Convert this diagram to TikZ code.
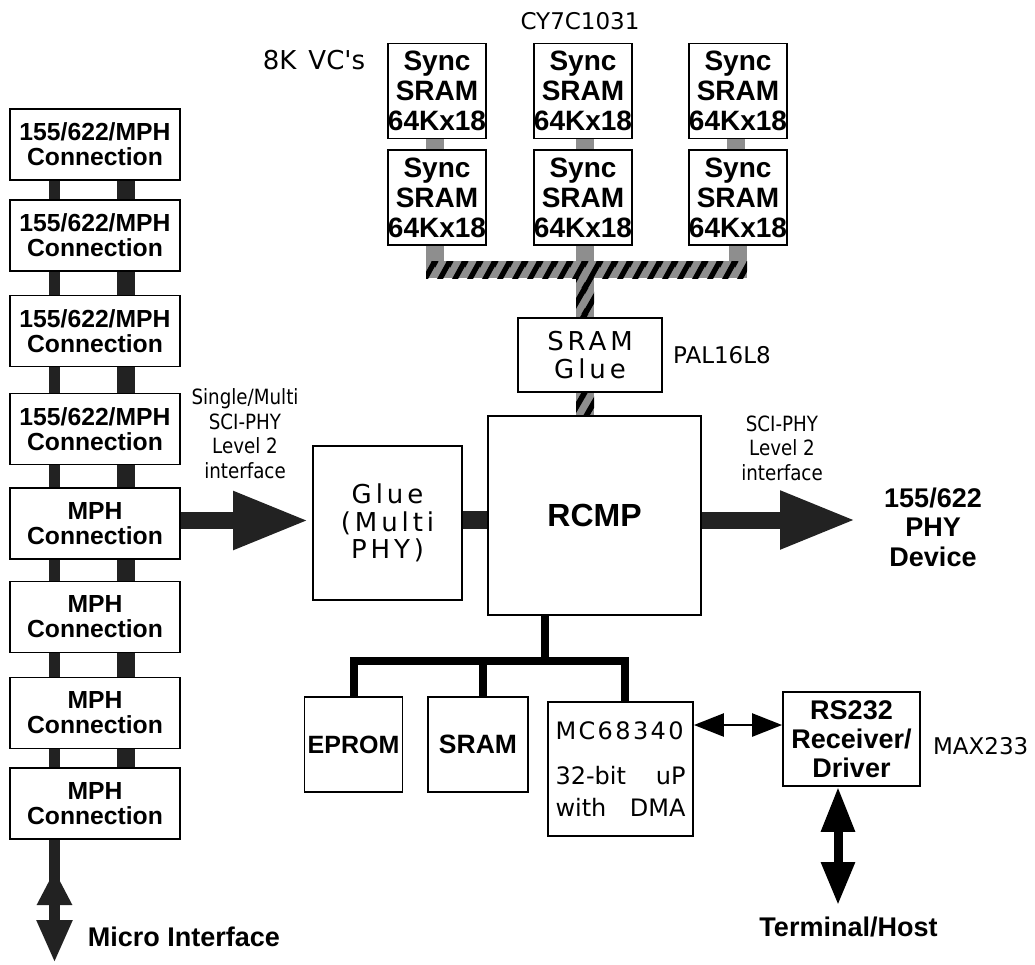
\documentclass[tikz,border=0pt]{standalone}
\usepackage{fontspec}
\usepackage{tikz}
\usetikzlibrary{arrows.meta, positioning, calc, patterns}
\setmainfont{Liberation Sans}
\newfontfamily\genevafont{DejaVu Sans}
\newfontfamily\spacedfont[LetterSpace=15]{DejaVu Sans}
\newfontfamily\mcfont[LetterSpace=10]{DejaVu Sans}
\newfontfamily\condfont[FakeStretch=0.87]{DejaVu Sans}
\definecolor{barblack}{HTML}{222222}
\definecolor{busgray}{HTML}{8E8E8E}
\pgfdeclarepatternformonly{busstripes}{\pgfqpoint{0pt}{0pt}}{\pgfqpoint{15pt}{26pt}}{\pgfqpoint{15pt}{26pt}}{%
  \pgfsetlinewidth{5.5pt}%
  \pgfpathmoveto{\pgfqpoint{-16.5pt}{-2.6pt}}\pgfpathlineto{\pgfqpoint{1.5pt}{28.6pt}}%
  \pgfpathmoveto{\pgfqpoint{-1.5pt}{-2.6pt}}\pgfpathlineto{\pgfqpoint{16.5pt}{28.6pt}}%
  \pgfpathmoveto{\pgfqpoint{13.5pt}{-2.6pt}}\pgfpathlineto{\pgfqpoint{31.5pt}{28.6pt}}%
  \pgfusepath{stroke}}
\tikzset{
  block/.style={
    rectangle, draw, line width=1.8pt,
    inner sep=0pt, align=center,
  },
  conn/.style={
    block, minimum width=170pt, minimum height=71pt,
    font=\bfseries\fontsize{24.7}{25}\selectfont,
  },
  syncram/.style={
    block, minimum width=98pt, minimum height=95pt,
    font=\bfseries\fontsize{28}{30}\selectfont,
  },
  glueblock/.style={
    block, font=\spacedfont\fontsize{26}{27.5}\selectfont,
  },
  memblock/.style={
    block, minimum width=98pt, minimum height=95pt,
    font=\bfseries\fontsize{25}{28}\selectfont,
  },
  note/.style={inner sep=0pt, font=\genevafont\fontsize{23}{26}\selectfont},
  sci/.style={inner sep=0pt, align=center, font=\condfont\fontsize{21}{24.5}\selectfont},
  heading/.style={inner sep=0pt, align=center, font=\bfseries\fontsize{27}{29.5}\selectfont},
  railthin/.style={draw=barblack, line width=11pt},
  railthick/.style={draw=barblack, line width=18pt},
  fatarrow/.style={draw=barblack, line width=17pt, -{Triangle[length=76pt, width=54pt]}},
  microarrow/.style={draw=barblack, line width=11pt,
    {Triangle[length=35pt, width=33pt]}-{Triangle[length=43pt, width=33pt]}},
  termarrow/.style={draw=black, line width=9pt,
    {Triangle[length=45pt, width=32pt]}-{Triangle[length=43pt, width=32pt]}},
  serial/.style={draw=black, line width=2.5pt,
    {Triangle[length=30pt, width=23pt]}-{Triangle[length=30pt, width=23pt]}},
  cpubus/.style={draw=black, line width=8pt},
  stub/.style={fill=busgray},
  busbar/.style={preaction={fill=busgray}, pattern=busstripes, pattern color=black},
}

\begin{document}
\begin{tikzpicture}[x=1pt, y=-1pt]
  \useasboundingbox (0,0) rectangle (1035,964);

  \node[conn] (c1) at (95,144.5) {155/622/MPH\\Connection};
  \node[conn] (c2) at (95,235.5) {155/622/MPH\\Connection};
  \node[conn] (c3) at (95,331) {155/622/MPH\\Connection};
  \node[conn] (c4) at (95,429) {155/622/MPH\\Connection};
  \node[conn] (c5) at (95,523.5) {MPH\\Connection};
  \node[conn] (c6) at (95,617) {MPH\\Connection};
  \node[conn] (c7) at (95,713) {MPH\\Connection};
  \node[conn] (c8) at (95,803.5) {MPH\\Connection};

  \foreach \a/\b in {c1/c2, c2/c3, c3/c4, c4/c5, c5/c6, c6/c7, c7/c8} {
    \draw[railthin] ([xshift=-40.5]\a.south) -- ([xshift=-40.5]\b.north);
    \draw[railthick] ([xshift=31]\a.south) -- ([xshift=31]\b.north);
  }

  \coordinate (microjoint) at (54.5,905);
  \coordinate (microup) at (54.5,870);
  \coordinate (microtip) at (54.5,963);
  \draw[railthin] ([xshift=-40.5]c8.south) -- (microjoint);
  \draw[microarrow] (microup) -- (microtip);
  \node[heading] (micro) at (184,937) {Micro Interface};

  \foreach \col/\x in {1/437, 2/583, 3/738} {
    \node[syncram] (s\col1) at (\x,91) {Sync\\SRAM\\64Kx18};
    \node[syncram, below=10pt of s\col1] (s\col2) {Sync\\SRAM\\64Kx18};
  }
  \node[note] (partno) at (580,21) {CY7C1031};
  \node[note, font=\genevafont\fontsize{26}{28}\selectfont] (vcs) at (314,60) {8K\hspace{12pt}VC\textquotesingle s};

  \foreach \x in {426, 576, 727} \fill[stub] (\x,139) rectangle ++(18,10);
  \foreach \x in {426, 576, 729} \fill[stub] (\x,246) rectangle ++(18,16);
  \path[busbar] (426,261) rectangle (747,278);

  \node[glueblock, minimum width=144pt, minimum height=74pt] (sramglue) at (590,355) {SRAM\\Glue};
  \node[note, right=10pt of sramglue] (pal) {PAL16L8};
  \path[busbar] (576,278) rectangle ([xshift=4]sramglue.north);

  \node[block, minimum width=213pt, minimum height=199pt,
        font=\bfseries\fontsize{32}{34}\selectfont] (rcmp) at (594.5,515.5) {RCMP};
  \path[busbar] ([xshift=-14]sramglue.south) rectangle ([xshift=4]sramglue.south |- rcmp.north);

  \node[glueblock, minimum width=149pt, minimum height=154pt] (glue) at (387.5,523) {Glue\\(Multi\\PHY)};
  \coordinate (gluerow) at (0,520);
  \draw[railthick] (glue.east |- gluerow) -- (rcmp.west |- gluerow);

  \coordinate (arrowrow) at (0,520.5);
  \draw[fatarrow] (c5.east |- arrowrow) -- ([xshift=-3]glue.west |- arrowrow);
  \node[sci] (scileft) at (245,433.5) {Single/Multi\\SCI-PHY\\Level 2\\interface};

  \coordinate (phytip) at (856,520);
  \draw[fatarrow] (rcmp.east |- phytip) -- (phytip);
  \node[sci] (sciright) at (782,448) {SCI-PHY\\Level 2\\interface};
  \node[heading] (phy) at (933,527) {155/622\\PHY\\Device};

  \node[memblock] (eprom) at (353.5,744.5) {EPROM};
  \node[memblock, minimum width=100pt, font=\bfseries\fontsize{26.5}{28}\selectfont] (sram) at (478,744.5) {SRAM};
  \node[block, minimum width=145pt, minimum height=134pt, text width=130pt, align=left,
        font=\genevafont\fontsize{24}{32}\selectfont] (mc) at (620.5,769)
        {{\mcfont MC68340}\\[13pt]32-bit\hfill uP\hspace{10pt}\\with\hfill DMA};

  \coordinate (cpubus) at (0,661);
  \coordinate (mcdrop) at ([xshift=4.5]mc.north);
  \coordinate (sramdrop) at ([xshift=4.5]sram.north);
  \coordinate (rcmpdrop) at ([xshift=-50]rcmp.south);
  \draw[cpubus] (eprom.north) -- (eprom.north |- cpubus) -- (mcdrop |- cpubus) -- (mcdrop);
  \draw[cpubus] (sramdrop) -- (sramdrop |- cpubus);
  \draw[cpubus] (rcmpdrop) -- (rcmpdrop |- cpubus);

  \node[block, minimum width=137pt, minimum height=94pt,
        font=\bfseries\fontsize{27}{29}\selectfont] (rs232) at (851.5,739) {RS232\\Receiver/\\Driver};
  \node[note, right=12pt of rs232, yshift=-7pt] (maxchip) {MAX233};

  \coordinate (serialrow) at (0,725);
  \draw[serial] (mc.east |- serialrow) -- (rs232.west |- serialrow);

  \coordinate (termtip) at (838,905);
  \draw[termarrow] (rs232.south -| termtip) -- (termtip);
  \node[heading] (term) at (848.5,927) {Terminal/Host};

\end{tikzpicture}
\end{document}
